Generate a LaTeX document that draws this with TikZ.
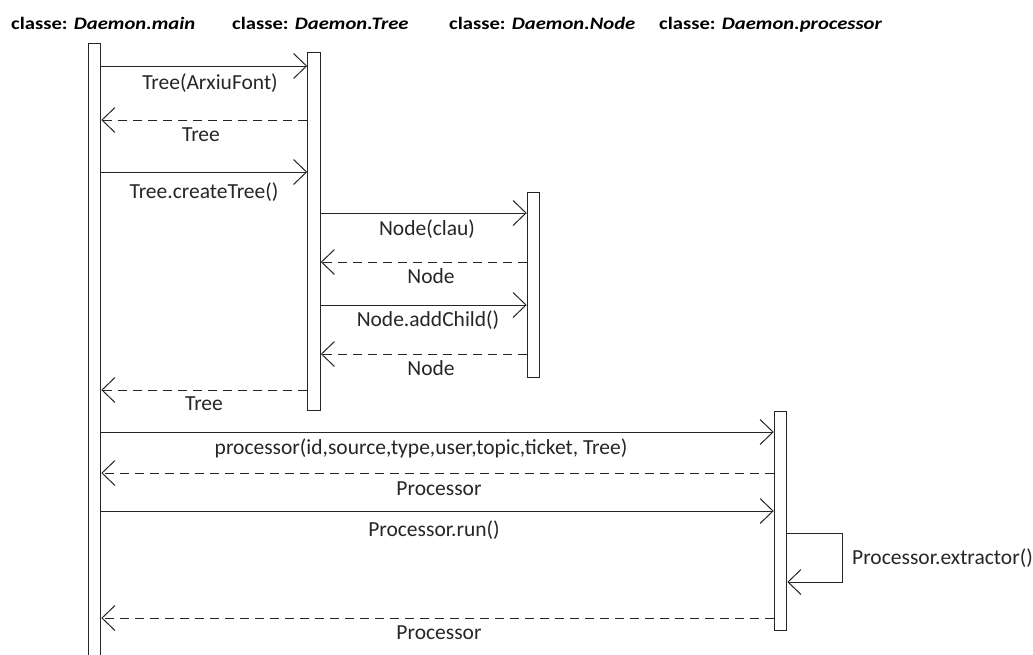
\documentclass[tikz,border=0pt]{standalone}
\usepackage{fontspec}
\setmainfont{Carlito}
\usetikzlibrary{arrows.meta}
\tikzset{
  bar/.style={draw=black!85, fill=white, line width=1pt, inner sep=0pt, minimum width=12.5pt},
  call/.style={draw=black!85, line width=1pt, -{Straight Barb[length=13pt,width=25pt]}},
  reply/.style={call, dash pattern=on 9pt off 6pt},
  lbl/.style={inner sep=0pt, anchor=base, text=black!85, font=\fontsize{21.5}{25}\selectfont},
  head/.style={inner sep=0pt, anchor=base west, text=black, font=\fontsize{17.5}{21}\selectfont\bfseries},
}
\newcommand{\classhead}[1]{\scalebox{1.18}[1]{classe: \textit{#1}}}
\begin{document}
\begin{tikzpicture}[x=1pt, y=-1pt]
\useasboundingbox[fill=white] (0,0) rectangle (1033,654);

% class headers
\node[head] (hmain) at (11,29)  {\classhead{Daemon.main}};
\node[head] (htree) at (232,29) {\classhead{Daemon.Tree}};
\node[head] (hnode) at (449,29) {\classhead{Daemon.Node}};
\node[head] (hproc) at (659,29) {\classhead{Daemon.processor}};

% activation bars
\node[bar, minimum height=630pt] (main) at (94.5,358) {};
\node[bar, minimum height=358pt] (tree) at (314,231) {};
\node[bar, minimum height=185pt] (node) at (533.5,284.5) {};
\node[bar, minimum height=219pt] (proc) at (780.5,520.5) {};

% main <-> tree
\draw[call]  (main.east |- 0,66)  -- (tree.west |- 0,66);
\node[lbl] (l1) at (210,89) {Tree(ArxiuFont)};
\draw[reply] (tree.west |- 0,120) -- (main.east |- 0,120);
\node[lbl] (l2) at (201,141) {Tree};
\draw[call]  (main.east |- 0,172) -- (tree.west |- 0,172);
\node[lbl] (l3) at (204,198) {Tree.createTree()};

% tree <-> node
\draw[call]  (tree.east |- 0,213) -- (node.west |- 0,213);
\node[lbl] (l4) at (427,235) {Node(clau)};
\draw[reply] (node.west |- 0,262) -- (tree.east |- 0,262);
\node[lbl] (l5) at (431,283) {Node};
\draw[call]  (tree.east |- 0,305) -- (node.west |- 0,305);
\node[lbl] (l6) at (428,326) {Node.addChild()};
\draw[reply] (node.west |- 0,354) -- (tree.east |- 0,354);
\node[lbl] (l7) at (431,375) {Node};

\draw[reply] (tree.west |- 0,390) -- (main.east |- 0,390);
\node[lbl] (l8) at (204,410) {Tree};

% main <-> processor
\draw[call]  (main.east |- 0,432) -- (proc.west |- 0,432);
\node[lbl] (l9) at (421,454) {processor(id,source,type,user,topic,ticket, Tree)};
\draw[reply] (proc.west |- 0,473) -- (main.east |- 0,473);
\node[lbl] (l10) at (439,495) {Processor};
\draw[call]  (main.east |- 0,511) -- (proc.west |- 0,511);
\node[lbl] (l11) at (434,536) {Processor.run()};

% self call
\coordinate (loop) at (842,557);
\draw[call] (proc.east |- 0,533) -| (loop) |- (proc.east |- 0,582);
\node[lbl, anchor=base west] (l12) at (852,564) {Processor.extractor()};

\draw[reply] (proc.west |- 0,618) -- (main.east |- 0,618);
\node[lbl] (l13) at (439,639) {Processor};
\end{tikzpicture}
\end{document}
